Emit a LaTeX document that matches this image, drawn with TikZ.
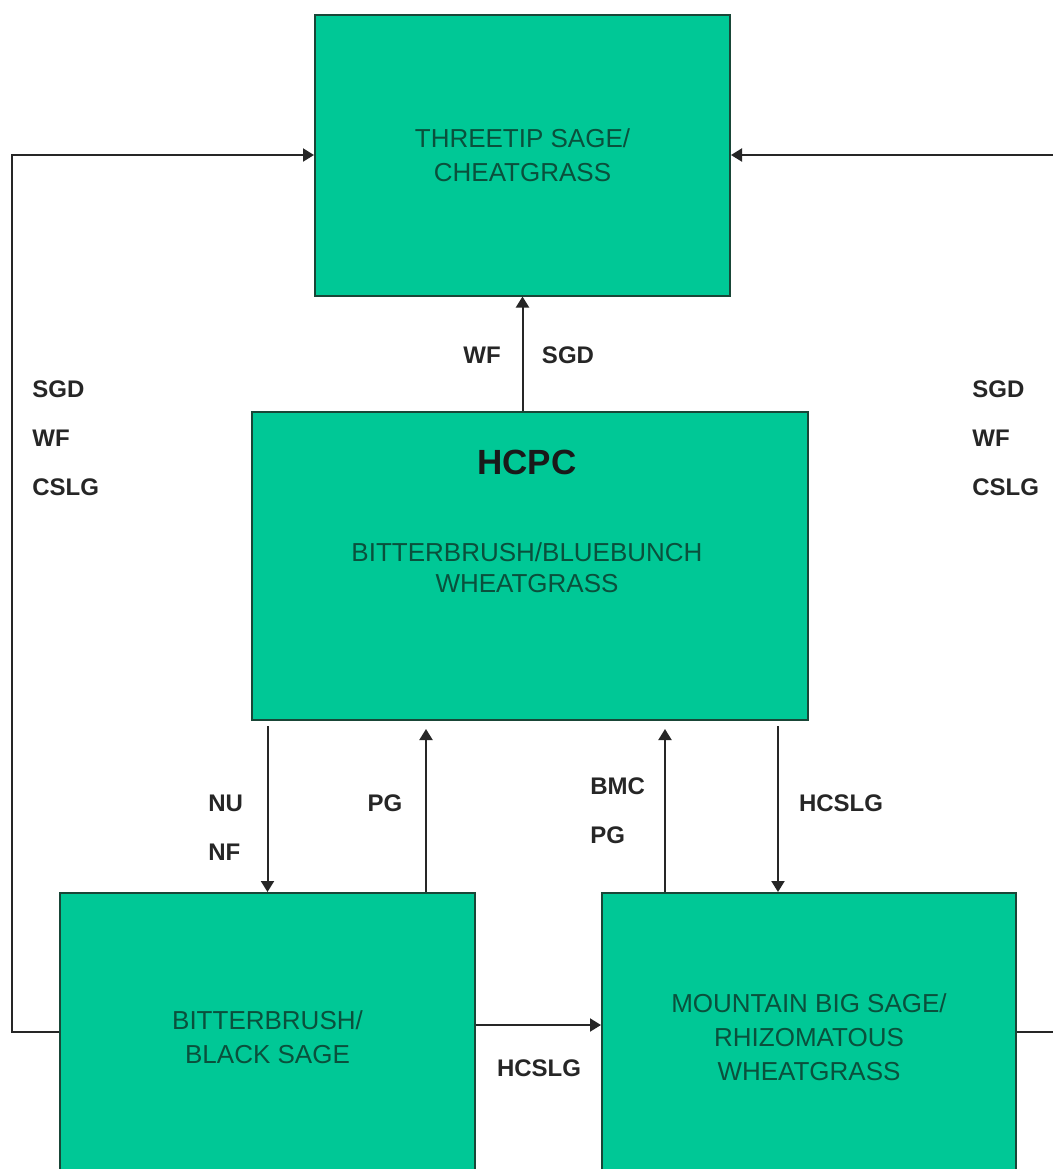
\documentclass[tikz,border=0pt]{standalone}
\usepackage{fontspec}
\setmainfont{Liberation Sans}
\usetikzlibrary{arrows.meta}
\definecolor{boxfill}{RGB}{0,200,150}
\definecolor{boxline}{RGB}{25,70,55}
\definecolor{boxtext}{RGB}{10,80,60}
\tikzset{
  statebox/.style={draw=boxline, line width=1pt, fill=boxfill, inner sep=0pt,
    text=boxtext, align=center, font=\fontsize{13}{17}\selectfont},
  lbl/.style={inner sep=0pt, text=black!85, align=left,
    font=\bfseries\fontsize{12}{24.5}\selectfont},
  arr/.style={line width=1pt, draw=black!85, -{Triangle[length=5.5pt,width=6.5pt]}}
}
\begin{document}
\begin{tikzpicture}[x=0.5pt, y=-0.5pt]
    \clip (0,0) rectangle (1053,1169);
    \fill[white] (0,0) rectangle (1053,1169);

    % States
    \node[statebox, minimum width=207.5pt, minimum height=140.5pt] (top) at (522.5,155)
        {THREETIP SAGE/\\CHEATGRASS};
    \node[statebox, minimum width=278pt, minimum height=154pt] (hcpc) at (530,566) {};
    \node[text=black!90, font=\bfseries\fontsize{17.5}{20}\selectfont] (hcpctitle) at (527,462) {HCPC};
    \node[text=boxtext, align=center, font=\fontsize{13}{15.5}\selectfont] (hcpctext) at (527,568)
        {BITTERBRUSH/BLUEBUNCH\\WHEATGRASS};
    \node[statebox, minimum width=207.5pt, minimum height=144pt] (bitter) at (267.5,1037)
        {BITTERBRUSH/\\BLACK SAGE};
    \node[statebox, minimum width=207pt, minimum height=144pt] (mtn) at (809,1037)
        {MOUNTAIN BIG SAGE/\\RHIZOMATOUS\\WHEATGRASS};

    % HCPC to threetip
    \draw[arr] (hcpc.north -| top.south) -- (top.south);
    \node[lbl] (wf) at (482,355) {WF};
    \node[lbl] (sgd) at (568,355) {SGD};

    % Outer loops to threetip
    \draw[arr] (bitter.west |- 0,1032) -- (12,1032) |- (top.west);
    \draw[arr] (mtn.east |- 0,1032) -- (1058,1032) |- (top.east);
    \node[lbl, anchor=west] (leftlbl) at (32,438) {SGD\\WF\\CSLG};
    \node[lbl, anchor=west] (rightlbl) at (972,438) {SGD\\WF\\CSLG};

    % HCPC and bitterbrush/black sage
    \draw[arr, shorten <=2.5pt] (hcpc.south -| bitter.north) -- (bitter.north);
    \draw[arr, shorten >=4pt] (bitter.north -| 426,0) -- (hcpc.south -| 426,0);
    \node[lbl, anchor=west] (nunf) at (208,828) {NU\\NF};
    \node[lbl] (pg) at (385,803) {PG};

    % HCPC and mountain big sage
    \draw[arr, shorten >=4pt] (mtn.north -| 665,0) -- (hcpc.south -| 665,0);
    \draw[arr, shorten <=2.5pt] (hcpc.south -| 778,0) -- (mtn.north -| 778,0);
    \node[lbl, anchor=west] (bmcpg) at (590,811) {BMC\\PG};
    \node[lbl] (hcslg) at (841,803) {HCSLG};

    % Bitterbrush to mountain big sage
    \draw[arr] (bitter.east |- 0,1025) -- (mtn.west |- 0,1025);
    \node[lbl] (hcslgb) at (539,1068) {HCSLG};
\end{tikzpicture}
\end{document}
